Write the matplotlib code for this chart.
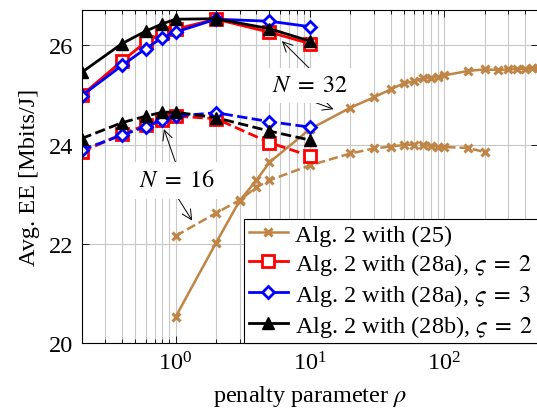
import matplotlib
matplotlib.use("Agg")
import matplotlib.pyplot as plt
from matplotlib.ticker import LogLocator, NullFormatter

plt.rcParams["font.family"] = ["Liberation Serif", "DejaVu Serif"]
plt.rcParams["mathtext.fontset"] = "stix"
plt.rcParams["font.size"] = 17.5

# penalty values used for the (28a)/(28b) runs
rho_28 = [0.2, 0.4, 0.6, 0.8, 1, 2, 5, 10]

# N = 32
ee32_28a_s2 = [24.99, 25.68, 26.06, 26.25, 26.32, 26.52, 26.26, 26.03]
ee32_28a_s3 = [24.98, 25.59, 25.93, 26.15, 26.26, 26.52, 26.48, 26.37]
ee32_28b_s2 = [25.45, 26.03, 26.28, 26.43, 26.52, 26.53, 26.33, 26.08]

# N = 16
ee16_28a_s2 = [23.85, 24.21, 24.39, 24.49, 24.57, 24.52, 24.04, 23.77]
ee16_28a_s3 = [23.89, 24.19, 24.36, 24.49, 24.57, 24.64, 24.46, 24.35]
ee16_28b_s2 = [24.12, 24.44, 24.57, 24.65, 24.65, 24.54, 24.27, 24.09]

# Alg. 2 with (25)
rho_25_n32 = [1, 2, 3, 4, 5, 10, 20, 30, 40, 50, 60, 70, 80, 90, 100,
              150, 200, 250, 300, 350, 400, 450, 500]
ee32_25 = [20.53, 22.02, 22.87, 23.28, 23.64, 24.31, 24.74, 24.95, 25.11,
           25.23, 25.27, 25.33, 25.34, 25.36, 25.39, 25.48, 25.51, 25.50,
           25.51, 25.52, 25.52, 25.53, 25.53]
rho_25_n16 = [1, 2, 3, 4, 5, 10, 20, 30, 40, 50, 60, 70, 80, 90, 100, 150, 200]
ee16_25 = [22.16, 22.62, 22.88, 23.14, 23.28, 23.58, 23.82, 23.92, 23.96,
           23.99, 24.00, 23.99, 23.97, 23.96, 23.95, 23.93, 23.85]

orange = "#c08445"

fig = plt.figure(figsize=(5.37, 4.10), dpi=100)
ax = fig.add_axes([0.152, 0.16, 0.850, 0.8125])

sty_25 = dict(color=orange, marker="x", ms=6, mew=2.2, lw=1.8)
sty_a2 = dict(color="red", marker="s", ms=8, mew=2, mfc="white", lw=2)
sty_a3 = dict(color="blue", marker="D", ms=6.5, mew=2, mfc="white", lw=2)
sty_b2 = dict(color="black", marker="^", ms=9, mew=1, mfc="black", lw=2)

ax.plot(rho_25_n32, ee32_25, label="Alg. 2 with (25)", **sty_25)
ax.plot(rho_28, ee32_28a_s2, label=r"Alg. 2 with (28a), $\varsigma\;=\;2$", **sty_a2)
ax.plot(rho_28, ee32_28a_s3, label=r"Alg. 2 with (28a), $\varsigma\;=\;3$", **sty_a3)
ax.plot(rho_28, ee32_28b_s2, label=r"Alg. 2 with (28b), $\varsigma\;=\;2$", **sty_b2)

ax.plot(rho_25_n16, ee16_25, ls="--", **sty_25)
ax.plot(rho_28, ee16_28a_s2, ls="--", **sty_a2)
ax.plot(rho_28, ee16_28a_s3, ls="--", **sty_a3)
ax.plot(rho_28, ee16_28b_s2, ls="--", **sty_b2)

ax.set_xscale("log")
ax.set_xlim(0.2, 500)
ax.set_ylim(20, 26.7)
ax.set_yticks([20, 22, 24, 26])
ax.xaxis.set_minor_locator(LogLocator(base=10, subs=range(2, 10), numticks=20))
ax.xaxis.set_minor_formatter(NullFormatter())

ax.grid(True, which="major", color="#c8c8c8", lw=0.8)
ax.grid(True, which="minor", axis="x", color="#c8c8c8", lw=0.8)
ax.set_axisbelow(True)
ax.tick_params(which="both", direction="in", top=True, right=True, width=0.6)
ax.tick_params(which="major", length=5, pad=6)
ax.tick_params(which="minor", length=2.8)
for s in ax.spines.values():
    s.set_linewidth(0.8)

ax.set_xlabel(r"penalty parameter $\rho$", labelpad=6)
ax.set_ylabel("Avg. EE [Mbits/J]", labelpad=6)

# N labels with arrows to the curve groups
box = dict(boxstyle="square,pad=0.3", fc="white", ec="none")
arr = dict(arrowstyle="->", lw=0.7, color="black", shrinkA=0, shrinkB=0)
ax.text(10, 25.19, r"$N\;=\;32$", ha="center", va="center", bbox=box, zorder=5)
ax.annotate("", xy=(6.2, 26.08), xytext=(10.1, 25.51), arrowprops=arr)
ax.annotate("", xy=(15.0, 24.71), xytext=(10.1, 24.88), arrowprops=arr)
ax.text(1.02, 23.28, r"$N\;=\;16$", ha="center", va="center", bbox=box, zorder=5)
ax.annotate("", xy=(0.82, 24.31), xytext=(1.0, 23.64), arrowprops=arr)
ax.annotate("", xy=(1.33, 22.47), xytext=(1.0, 23.0), arrowprops=arr)

leg = ax.legend(loc="lower right", numpoints=1, borderaxespad=0,
                handlelength=1.6, handletextpad=0.3, labelspacing=0.2,
                borderpad=0.2, fancybox=False, framealpha=1,
                edgecolor="black")
leg.get_frame().set_linewidth(0.8)

fig.savefig("out.png", dpi=100)
